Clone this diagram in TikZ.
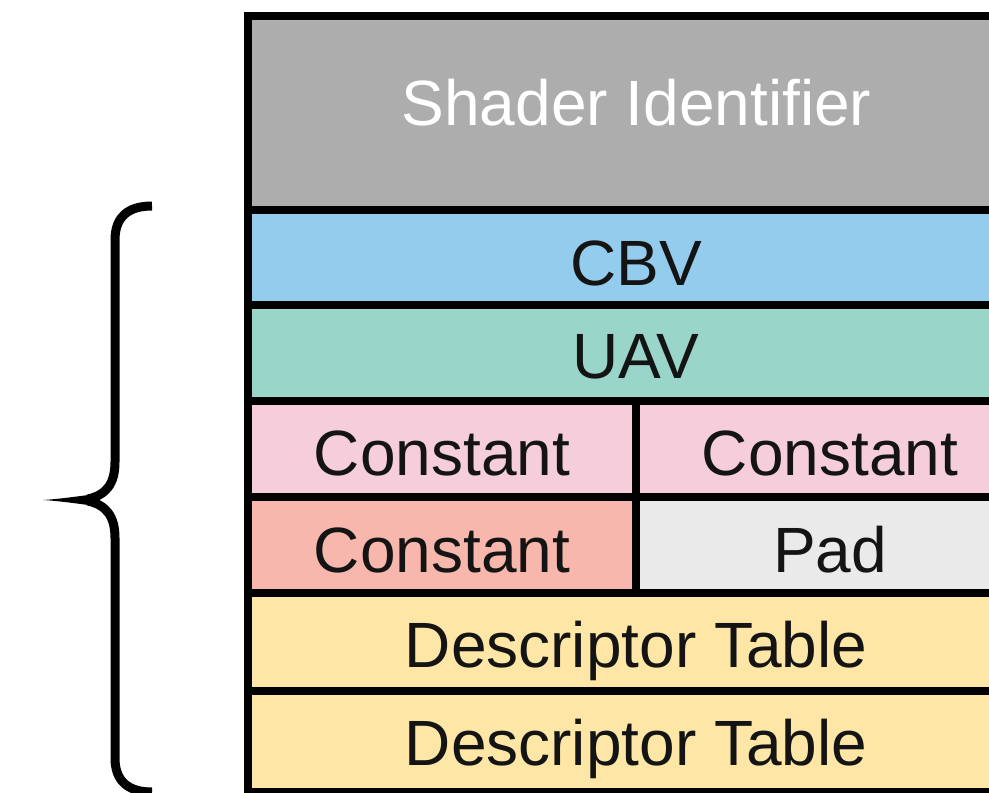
\documentclass[tikz,border=0pt]{standalone}
\usepackage{fontspec}
\setmainfont{Liberation Sans}
\begin{document}
\begin{tikzpicture}[x=1pt,y=-1pt,
  label text/.style={anchor=base, inner sep=0pt, text=black!92,
    font=\fontsize{64}{76}\selectfont},
  grid line/.style={line width=8.5pt, draw=black},
  brace line/.style={line width=9pt, draw=black, line cap=butt}]
\definecolor{shadergray}{HTML}{ADADAD}
\definecolor{cbvblue}{HTML}{93CCEC}
\definecolor{uavteal}{HTML}{99D5C9}
\definecolor{constpink}{HTML}{F6CDDB}
\definecolor{constsalmon}{HTML}{F7B7AC}
\definecolor{padgray}{HTML}{EAEAEA}
\definecolor{tableyellow}{HTML}{FDE6A6}

\useasboundingbox (0,0) rectangle (989,793);
\clip (0,0) rectangle (989,793);
\fill[white] (0,0) rectangle (989,793);

% cell fills of the root signature layout
\fill[shadergray]  (248,16)  rectangle (1025,210);
\fill[cbvblue]     (248,210) rectangle (1025,305);
\fill[uavteal]     (248,305) rectangle (1025,401);
\fill[constpink]   (248,401) rectangle (1025,497);
\fill[constsalmon] (248,497) rectangle (636,593);
\fill[padgray]     (636,497) rectangle (1025,593);
\fill[tableyellow] (248,593) rectangle (1025,792);

% separators and outline
\foreach \yy in {210,305,401,497,593,691}
  \draw[grid line] (248,\yy) -- (1025,\yy);
\draw[grid line] (636,401) -- (636,593);
\draw[grid line, line join=miter] (248,16) rectangle (1025,792);

% labels
\node[label text, text=white] (shader) at (636.5,125) {Shader Identifier};
\node[label text] (cbv)   at (636,285) {CBV};
\node[label text] (uav)   at (636,378) {UAV};
\node[label text] (constA) at (442,475) {Constant};
\node[label text] (constB) at (830,475) {Constant};
\node[label text] (constC) at (442,572) {Constant};
\node[label text] (pad)    at (830,572) {Pad};
\node[label text] (tableA) at (636,667) {Descriptor Table};
\node[label text] (tableB) at (636,765) {Descriptor Table};

% curly brace on the left
\draw[brace line] (152,206) .. controls (128,206) and (115,217) .. (115,240)
  -- (115,462) .. controls (115,484) and (106,495) .. (88,499);
\draw[brace line] (152,792) .. controls (128,792) and (115,781) .. (115,758)
  -- (115,538) .. controls (115,516) and (106,505) .. (88,501);
\fill[black] (100,493.5) .. controls (80,496) and (60,499) .. (43,500)
  .. controls (60,501) and (80,504) .. (100,506.5) -- cycle;
\end{tikzpicture}
\end{document}
